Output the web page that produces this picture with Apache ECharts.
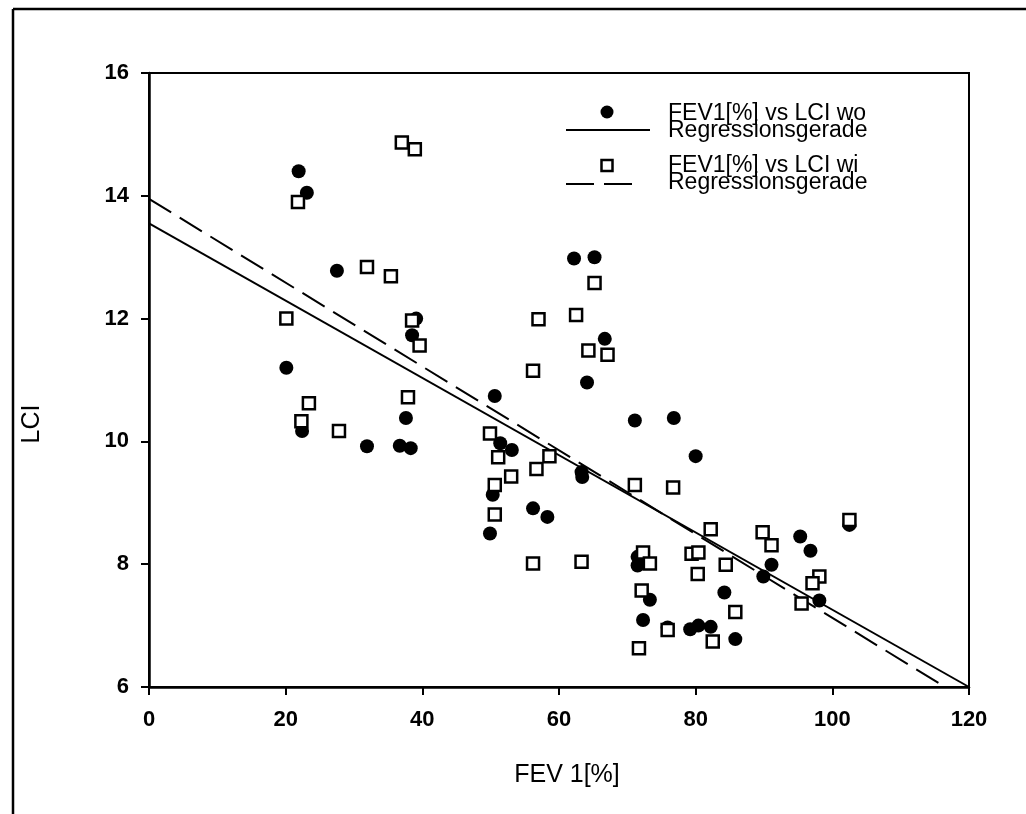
<!DOCTYPE html>
<html>
<head>
<meta charset="utf-8">
<title>FEV1 vs LCI</title>
<script src="https://cdn.jsdelivr.net/npm/echarts@6/dist/echarts.min.js"></script>
<style>
    html, body { margin: 0; padding: 0; background: #fff; }
    #chart { width: 1026px; height: 814px; }
</style>
</head>
<body>
<div id="chart"></div>
<script>
// FEV1[%] vs LCI, wo (filled circles)
var pontosWo = [
    [21.9, 14.4], [23.1, 14.05], [27.5, 12.78], [39.1, 12.0], [38.5, 11.73], [20.1, 11.2],
    [50.6, 10.74], [37.6, 10.38], [22.4, 10.17], [31.9, 9.92], [36.7, 9.93], [38.3, 9.89],
    [51.4, 9.97], [53.1, 9.86], [50.3, 9.13], [49.9, 8.5], [56.2, 8.91], [58.3, 8.77],
    [62.2, 12.98], [65.2, 13.0], [66.7, 11.67], [64.1, 10.96], [71.1, 10.34], [76.8, 10.38],
    [80.0, 9.76], [63.3, 9.5], [63.4, 9.42], [95.3, 8.45], [96.8, 8.22], [102.5, 8.64],
    [71.5, 8.12], [71.5, 7.98], [91.1, 7.99], [89.9, 7.8], [98.1, 7.41], [73.3, 7.42],
    [84.2, 7.54], [72.3, 7.09], [75.9, 6.97], [79.2, 6.94], [80.4, 7.0], [82.2, 6.98],
    [85.8, 6.78]
];

// FEV1[%] vs LCI, wi (open squares)
var pontosWi = [
    [21.8, 13.9], [37.0, 14.87], [38.9, 14.76], [31.9, 12.84], [35.4, 12.69], [20.1, 12.0],
    [38.5, 11.97], [39.6, 11.56], [57.0, 11.99], [56.2, 11.15], [37.9, 10.72], [23.4, 10.62],
    [22.3, 10.33], [27.8, 10.17], [49.9, 10.13], [51.1, 9.74], [53.0, 9.43], [50.6, 9.29],
    [50.6, 8.81], [56.7, 9.55], [58.6, 9.76], [56.2, 8.01], [63.3, 8.04], [62.5, 12.06],
    [65.2, 12.58], [64.3, 11.48], [67.1, 11.41], [71.1, 9.29], [76.7, 9.25], [82.2, 8.57],
    [89.8, 8.52], [91.1, 8.31], [102.5, 8.72], [72.3, 8.19], [73.3, 8.01], [79.4, 8.17],
    [80.4, 8.19], [84.4, 7.99], [80.3, 7.84], [98.1, 7.8], [97.1, 7.69], [95.5, 7.36],
    [72.1, 7.57], [85.8, 7.22], [75.9, 6.93], [82.5, 6.74], [71.7, 6.63]
];

// Regressionsgerade endpoints
var retaWo = [[0, 13.55], [120, 6.0]];
var retaWi = [[0, 13.95], [116.5, 6.0]];

var ticksX = [0, 20, 40, 60, 80, 100, 120];
var ticksY = [6, 8, 10, 12, 14, 16];

var legendaTextos = [
    'FEV1[%] vs LCI wo', 'Regressionsgerade',
    'FEV1[%] vs LCI wi', 'Regressionsgerade'
];

var fonte = '"Liberation Sans", Arial, sans-serif';

var myChart = echarts.init(document.getElementById('chart'), null, { renderer: 'canvas' });

var eixoLabel = {
    color: '#000',
    fontFamily: fonte,
    fontSize: 22,
    fontWeight: 'bold'
};

var option = {
    backgroundColor: '#fff',
    animation: false,
    grid: {
        left: 149,
        right: 57,
        top: 73,
        bottom: 127,
        show: true,
        borderColor: '#000',
        borderWidth: 2
    },
    xAxis: {
        type: 'value',
        min: ticksX[0],
        max: ticksX[ticksX.length - 1],
        interval: 20,
        name: 'FEV 1[%]',
        nameLocation: 'middle',
        nameGap: 76,
        nameTextStyle: { color: '#000', fontFamily: fonte, fontSize: 25, padding: [0, 0, 0, 16] },
        axisLine: { lineStyle: { color: '#000', width: 2.5 } },
        axisTick: { length: 8, lineStyle: { color: '#000', width: 2 } },
        axisLabel: Object.assign({ margin: 22 }, eixoLabel),
        splitLine: { show: false }
    },
    yAxis: {
        type: 'value',
        min: ticksY[0],
        max: ticksY[ticksY.length - 1],
        interval: 2,
        name: 'LCI',
        nameLocation: 'middle',
        nameRotate: 90,
        nameGap: 104,
        nameTextStyle: { color: '#000', fontFamily: fonte, fontSize: 25, padding: [0, 88, 0, 0] },
        axisLine: { show: true, lineStyle: { color: '#000', width: 2.5 } },
        axisTick: { show: true, length: 8, lineStyle: { color: '#000', width: 2 } },
        axisLabel: Object.assign({ margin: 20 }, eixoLabel),
        splitLine: { show: false }
    },
    series: [
        {
            name: 'FEV1[%] vs LCI wo',
            type: 'scatter',
            data: pontosWo,
            symbol: 'circle',
            symbolSize: 14,
            itemStyle: { color: '#000', opacity: 1 },
            z: 3
        },
        {
            name: 'FEV1[%] vs LCI wi',
            type: 'scatter',
            data: pontosWi,
            symbol: 'rect',
            symbolSize: 12,
            itemStyle: { color: '#fff', borderColor: '#000', borderWidth: 2.5, opacity: 1 },
            z: 4
        },
        {
            name: 'Regressionsgerade wo',
            type: 'line',
            data: retaWo,
            showSymbol: false,
            symbol: 'none',
            lineStyle: { color: '#000', width: 2 },
            z: 2
        },
        {
            name: 'Regressionsgerade wi',
            type: 'line',
            data: retaWi,
            showSymbol: false,
            symbol: 'none',
            lineStyle: { color: '#000', width: 2, type: [26, 10] },
            z: 2
        }
    ],
    graphic: [
        // outer frame (left and top)
        { type: 'line', shape: { x1: 13, y1: 9, x2: 13, y2: 814 }, style: { stroke: '#000', lineWidth: 2.5 } },
        { type: 'line', shape: { x1: 13, y1: 9, x2: 1026, y2: 9 }, style: { stroke: '#000', lineWidth: 2.5 } },

        // legenda
        { type: 'circle', shape: { cx: 607, cy: 112, r: 6.5 }, style: { fill: '#000' } },
        { type: 'line', shape: { x1: 566, y1: 130, x2: 650, y2: 130 }, style: { stroke: '#000', lineWidth: 2 } },
        { type: 'rect', shape: { x: 601.5, y: 160, width: 11, height: 11 }, style: { fill: '#fff', stroke: '#000', lineWidth: 2.5 } },
        { type: 'line', shape: { x1: 566, y1: 184, x2: 632, y2: 184 }, style: { stroke: '#000', lineWidth: 2, lineDash: [28, 10] } },
        { type: 'text', x: 668, y: 114, style: { text: legendaTextos[0], fill: '#000', font: '23px ' + fonte, verticalAlign: 'middle' } },
        { type: 'text', x: 668, y: 131, style: { text: legendaTextos[1], fill: '#000', font: '23px ' + fonte, verticalAlign: 'middle' } },
        { type: 'text', x: 668, y: 166, style: { text: legendaTextos[2], fill: '#000', font: '23px ' + fonte, verticalAlign: 'middle' } },
        { type: 'text', x: 668, y: 183, style: { text: legendaTextos[3], fill: '#000', font: '23px ' + fonte, verticalAlign: 'middle' } }
    ]
};

myChart.setOption(option);
</script>
</body>
</html>
